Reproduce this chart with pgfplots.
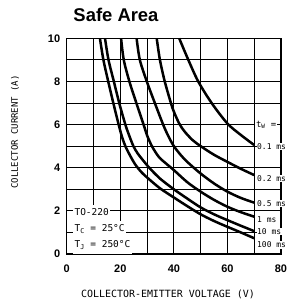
\documentclass[border=0pt]{standalone}
\usepackage{fontspec}
\setmainfont{Liberation Sans}
\newfontfamily\monofont{DejaVu Sans Mono}
\usepackage{pgfplots}
\pgfplotsset{compat=1.18}
\begin{document}
\begin{tikzpicture}[x=1bp,y=1bp]
\useasboundingbox (0,0) rectangle (289,306);
\node[font=\fontsize{18.5}{20}\selectfont\bfseries] at (116,291) {Safe Area};
\node[rotate=90,font=\monofont\fontsize{9}{10}\selectfont] at (15,174) {COLLECTOR CURRENT (A)};
\node[font=\monofont\fontsize{10}{11}\selectfont] at (168,12) {COLLECTOR-EMITTER VOLTAGE (V)};
\begin{axis}[at={(66.7bp,52bp)}, anchor=south west, scale only axis,
  width=214.3bp, height=215.7bp,
  xmin=0, xmax=80, ymin=0, ymax=10,
  xtick={0,20,...,80}, minor xtick={10,30,50,70},
  ytick={0,2,...,10}, minor ytick={1,3,5,7,9},
  grid=both,
  major grid style={black, line width=0.8bp},
  minor grid style={black, line width=0.8bp},
  major tick length=0pt, minor tick length=0pt,
  axis line style={line width=1.1bp},
  tick label style={font=\fontsize{11}{12}\selectfont\bfseries},
  /pgf/number format/assume math mode=true,
  xticklabel style={yshift=-7bp},
  yticklabel style={xshift=-3bp},
  clip=false]
% 100 ms
\addplot[black, line width=2.5bp, smooth] coordinates {
(12.4,10) (13.7,9) (15.5,8) (17.4,7) (19.4,6) (20.6,5.45) (21.9,5) (23.5,4.6) (25.6,4.15) (28,3.78) (31.1,3.43) (35,3.03) (40,2.62) (45,2.22) (50,1.84) (55,1.53) (60,1.26) (65,1.0) (70,0.73)};
% 10 ms
\addplot[black, line width=2.5bp, smooth] coordinates {
(14.3,10) (15.6,9) (17.6,8) (19.6,7) (21.9,6) (23.3,5.5) (24.9,5) (26.4,4.68) (28,4.42) (31.1,3.96) (35,3.48) (40,3.0) (45,2.57) (50,2.16) (55,1.84) (60,1.57) (65,1.31) (70,1.06)};
% 1 ms
\addplot[black, line width=2.5bp, smooth] coordinates {
(20.3,10) (21.3,9) (23.4,8) (26.0,7) (28.7,6) (30,5.5) (31.6,5.05) (33,4.75) (35,4.42) (40,3.89) (45,3.33) (50,2.89) (55,2.51) (60,2.19) (65,1.94) (70,1.73)};
% 0.5 ms
\addplot[black, line width=2.5bp, smooth] coordinates {
(26.1,10) (27.3,9) (29.9,8) (32.9,7) (36,6) (38,5.45) (40,5.0) (42.5,4.6) (45,4.27) (50,3.73) (55,3.27) (60,2.89) (65,2.6) (70,2.38)};
% 0.2 ms
\addplot[black, line width=2.5bp, smooth] coordinates {
(33.6,10) (34.8,9) (36.6,8) (38.9,7) (40,6.6) (42,6.05) (44,5.68) (47,5.28) (50,5.0) (55,4.6) (60,4.27) (65,3.95) (70,3.66)};
% 0.1 ms
\addplot[black, line width=2.5bp, smooth] coordinates {
(42,10) (45.4,9) (49.1,8) (54.1,7) (60,6.05) (65,5.52) (70,5.05)};
\tikzset{lab/.style={anchor=west, fill=white, inner sep=0.6bp, font=\monofont\fontsize{8}{9}\selectfont}}
\node[lab, font=\monofont\fontsize{9}{10}\selectfont] at (axis cs:70.4,6.0) {t\textsubscript{W} =};
\node[lab] at (axis cs:70.8,5.0) {0.1 ms};
\node[lab] at (axis cs:70.8,3.5) {0.2 ms};
\node[lab] at (axis cs:70.8,2.33) {0.5 ms};
\node[lab] at (axis cs:70.8,1.6) {1 ms};
\node[lab] at (axis cs:70.8,1.03) {10 ms};
\node[lab] at (axis cs:70.8,0.42) {100 ms};
\tikzset{box/.style={anchor=base west, fill=white, inner xsep=1.5bp, inner ysep=3bp, font=\monofont\fontsize{9.5}{11}\selectfont}}
\node[box] at (axis cs:2.3,1.78) {TO-220\strut};
\node[box] at (axis cs:2.3,1.02) {T\textsubscript{C} = 25°C\strut};
\node[box] at (axis cs:2.3,0.30) {T\textsubscript{J} = 250°C\strut};
\end{axis}
\end{tikzpicture}
\end{document}
